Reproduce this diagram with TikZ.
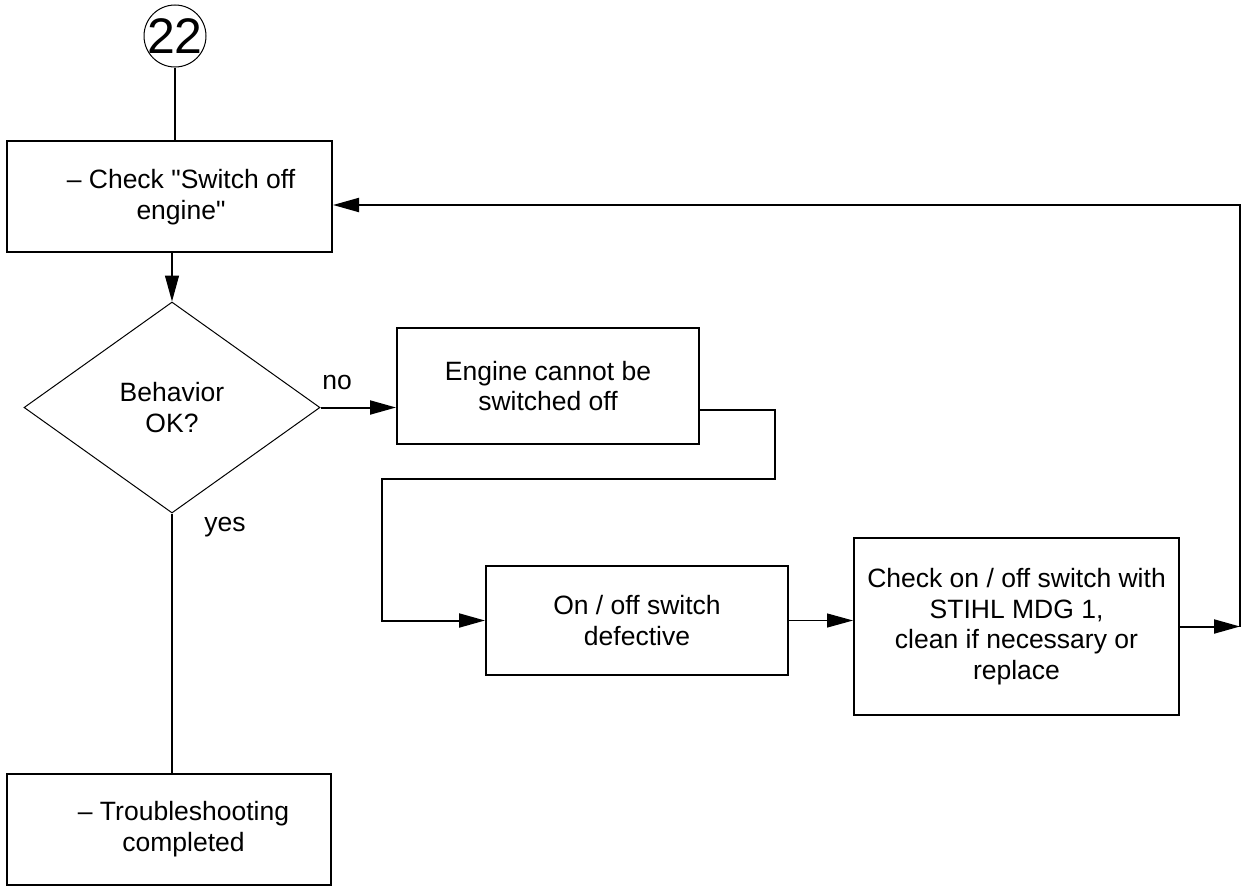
\documentclass[tikz,border=0pt]{standalone}
\usepackage{fontspec}
\setmainfont{Liberation Sans}
\usetikzlibrary{arrows.meta,shapes.geometric}
\begin{document}
\begin{tikzpicture}[x=1pt,y=-1pt,
  every node/.style={font=\fontsize{26.5}{30.5}\selectfont},
  box/.style={draw,line width=2pt,inner sep=0pt,align=center},
  txt/.style={inner sep=0pt,align=center},
  conn/.style={line width=2pt},
  thinconn/.style={line width=1.2pt},
  tip/.style={-{Triangle[length=26pt,width=14pt]}},
  decision/.style={diamond,draw,line width=1pt,inner sep=0pt,align=center},
  connector/.style={circle,draw,line width=1pt,inner sep=0pt,minimum size=62pt,
    font=\fontsize{50}{50}\selectfont}]
\useasboundingbox (0,0) rectangle (1241,891);

% entry point
\node[connector] (c22) at (175,36) {\makebox[0pt]{22}};

% process boxes
\node[box,minimum width=325pt,minimum height=111pt] (box1) at (169.5,196.5) {};
\node[txt] (box1t) at (181,197) {-- Check \textquotedbl Switch off\\engine\textquotedbl};

\node[decision,minimum width=296pt,minimum height=211pt] (dia) at (172,407.5) {Behavior\\OK?};

\node[box,minimum width=302pt,minimum height=116pt] (box2) at (548,386) {Engine cannot be\\switched off};

\node[box,minimum width=302pt,minimum height=109pt] (box3) at (637,620.5) {On / off switch\\defective};

\node[box,minimum width=325pt,minimum height=177pt] (box4) at (1016.5,626.5)
  {Check on / off switch with\\STIHL MDG 1,\\clean if necessary or\\replace};

\node[box,minimum width=324pt,minimum height=111pt] (box5) at (169,829.5) {};
\node[txt] (box5t) at (183.5,829) {-- Troubleshooting\\completed};

% branch labels
\node[txt] (lno) at (337,382) {no};
\node[txt] (lyes) at (225,527) {yes};

% helper points on the routed connectors
\coordinate (b2out) at (box2.east |- 0,410);
\coordinate (k1) at (775,410);
\coordinate (k2) at (775,479);
\coordinate (k3) at (382,479);
\coordinate (rt) at (1240,626.5);
\coordinate (tr) at (1240,205);

% connectors
\draw[conn] (c22.south) -- (c22.south |- box1.north);
\draw[thinconn,tip] (dia.north |- box1.south) -- (dia.north);
\draw[conn,tip] (dia.east) -- (dia.east -| box2.west);
\draw[conn,tip] (b2out) -- (k1) -- (k2) -- (k3) |- (box3.west);
\draw[thinconn,tip] (box3.east) -- (box3.east -| box4.west);
\draw[conn,tip] (box4.east) -- (rt);
\draw[conn,tip] (rt) -- (tr) -- (box1.east |- tr);
\draw[thinconn] (dia.south) -- (dia.south |- box5.north);
\end{tikzpicture}
\end{document}
